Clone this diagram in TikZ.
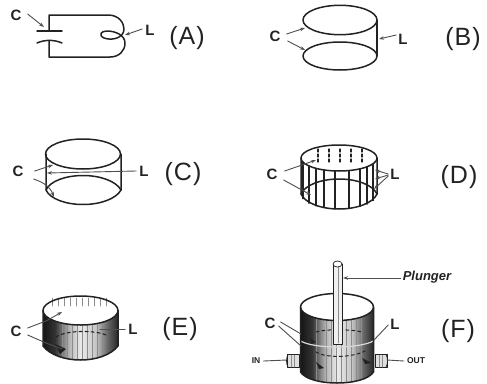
\documentclass[tikz,border=0pt]{standalone}
\usepackage{fontspec}
\setmainfont{Liberation Sans}
\usetikzlibrary{arrows.meta}
\definecolor{ink}{HTML}{222222}
\pgfdeclarehorizontalshading{cyl}{100bp}{color(0bp)=(black!92); color(25bp)=(black!92); color(33bp)=(black!80); color(42bp)=(black!30); color(50bp)=(black!8); color(60bp)=(black!22); color(68bp)=(black!60); color(75bp)=(black!85); color(100bp)=(black!85)}
\tikzset{
  x=1pt,y=-1pt,
  every path/.style={line cap=round,line join=round},
  outline/.style={draw=ink,line width=1.5pt},
  thin line/.style={draw=ink,line width=0.7pt},
  lead/.style={draw=ink!80,line width=0.9pt},
  leadarrow/.style={lead,-{Stealth[length=5pt,width=3.5pt]}},
  letter/.style={font=\fontsize{15}{15}\selectfont\bfseries,text=ink,inner sep=0pt},
  tiny letter/.style={font=\fontsize{8.5}{8.5}\selectfont\bfseries,text=ink,inner sep=0pt},
  panel/.style={font=\fontsize{25}{25}\selectfont,text=ink,inner sep=0pt},
  body/.style={shade,shading=cyl},
  hatch/.style={draw=black!45,line width=0.5pt},
}
\newcommand{\plabel}[1]{(\kern1pt#1\kern1pt)}
\begin{document}
\begin{tikzpicture}
\useasboundingbox (0,0) rectangle (487,383);
% ---------- A
\node[letter] (ca) at (16,15) {C};
\node[letter] (la) at (150,30) {L};
\node[panel] (pa) at (187,38) {\plabel{A}};
\draw[outline] (37,31) -- (62,31);
\draw[outline] (37,43) .. controls (45,39.5) and (54,39.5) .. (62,43);
\draw[outline] (49,31) -- (49,15) -- (108,15) .. controls (119,15) and (124,23) .. (124,29)
  .. controls (124,38) and (112,41) .. (104,38) .. controls (98,35) and (101,31) .. (107,31)
  .. controls (115,31) and (125,35) .. (125,43) .. controls (125,51) and (119,57) .. (110,57) -- (49,57) -- (49,41);
\coordinate (aca) at (44,27);
\coordinate (ala) at (125,35);
\draw[leadarrow] (ca.east)+(6,-1) -- (aca);
\draw[leadarrow] (la.west)+(-3,-1) -- (ala);
% ---------- B
\node[letter] (cb) at (275,36) {C};
\node[letter] (lb) at (403,39) {L};
\node[panel] (pb) at (463,39) {\plabel{B}};
\draw[outline] (340,20) ellipse [x radius=37,y radius=14.7];
\draw[outline] (340,56) ellipse [x radius=37,y radius=14];
\draw[outline] (377,20) -- (377,56);
\coordinate (bc1) at (305,28);
\coordinate (bc2) at (305,50);
\coordinate (bl) at (379,39);
\draw[leadarrow] (cb.east)+(6,-2) -- (bc1);
\draw[leadarrow] (cb.east)+(7,5) -- (bc2);
\draw[leadarrow] (lb.west)+(-2,-4) -- (bl);
% ---------- C
\node[letter] (cc) at (18,171) {C};
\node[letter] (lc) at (144,171) {L};
\node[panel] (pc) at (183,174) {\plabel{C}};
\draw[outline] (83,154) ellipse [x radius=37.5,y radius=15];
\draw[outline] (46,154) -- (46,190) .. controls (50,199) and (66,204.5) .. (83,204.5) .. controls (100,204.5) and (116,199) .. (121,190) -- (121,154);
\draw[outline] (46,190) .. controls (50,181) and (66,175.5) .. (83,175.5) .. controls (100,175.5) and (116,181) .. (121,190);
\coordinate (cc1) at (53,165);
\coordinate (cc2) at (54,197);
\coordinate (cl) at (47,173);
\draw[leadarrow] (cc.east)+(11,0) -- (cc1);
\draw[leadarrow] (cc.east)+(10,8) .. controls (45,183) and (50,187) .. (cc2);
\draw[leadarrow] (lc.west)+(-3,0) -- (cl);
% ---------- D
\node[letter] (cd) at (272,174) {C};
\node[letter] (ld) at (395,174) {L};
\node[panel] (pd) at (459,177) {\plabel{D}};
\foreach \x in {303,309,316,324,335,349,360,367,373}{
  \pgfmathsetmacro{\ss}{sqrt(1-((\x-339)/38)^2)}
  \draw[draw=ink,line width=1.1pt] (\x,{158+13*\ss}) -- (\x,{194+15*\ss});
}
\foreach \x in {318,329,340,351,362}{\draw[draw=ink,line width=1.1pt,densely dashed] (\x,149) -- (\x,162);}
\draw[outline] (339,158) ellipse [x radius=38,y radius=13];
\draw[outline] (301,158) -- (301,194) .. controls (305,203) and (321,209) .. (339,209) .. controls (357,209) and (373,203) .. (377,194) -- (377,158);
\draw[outline] (301,194) .. controls (305,185) and (321,179) .. (339,179) .. controls (357,179) and (373,185) .. (377,194);
\coordinate (dc1) at (316,160);
\coordinate (dc2) at (311,195);
\coordinate (dl1) at (375,170);
\coordinate (dl2) at (375,179);
\coordinate (dl3) at (374,189);
\draw[leadarrow] (cd.east)+(7,-3) -- (302,165) -- (dc1);
\draw[leadarrow] (cd.east)+(6,6) -- (dc2);
\draw[leadarrow] (ld.west)+(-2,0) -- (dl1);
\draw[leadarrow] (ld.west)+(-2,1) -- (dl2);
\draw[leadarrow] (ld.west)+(-2,2) -- (dl3);
% ---------- E
\node[letter] (ce) at (16,331) {C};
\node[letter] (le) at (133,329) {L};
\node[panel] (pe) at (180,329) {\plabel{E}};
\path[body] (43,310.5) -- (43,346) .. controls (50,355) and (65,360) .. (80.5,360) .. controls (96,360) and (111,355) .. (118,346) -- (118,310.5) .. controls (118,318) and (100,325) .. (80.5,325) .. controls (61,325) and (43,318) .. (43,310.5) -- cycle;
\foreach \x in {62,67,72,77,82,87,92,97,102}{
  \pgfmathsetmacro{\ss}{sqrt(1-((\x-80.5)/37.5)^2)}
  \draw[hatch] (\x,{310.5+14.5*\ss}) -- (\x,{346+13.5*\ss});
}
\fill[ink] (55,344) -- (66,349) -- (60,354) -- cycle;
\foreach \x in {52,58,64,70,76,82,88,94,100,106}{\draw[hatch] (\x,298) -- (\x,306);}
\draw[outline] (80.5,310.5) ellipse [x radius=37.5,y radius=14.5];
\draw[outline,dashed,line width=1.1pt] (56,337) .. controls (66,330) and (95,330) .. (106,335);
\draw[outline] (43,310.5) -- (43,346) .. controls (50,355) and (65,360) .. (80.5,360) .. controls (96,360) and (111,355) .. (118,346) -- (118,310.5);
\coordinate (ec1) at (62,312);
\coordinate (ec2) at (62,349);
\coordinate (el) at (100,329);
\draw[leadarrow] (ce.east)+(6,-3) -- (46,321) -- (ec1);
\draw[lead] (ce.east)+(6,4) -- (46,343);
\draw[lead] (46,343) -- (ec2);
\draw[lead] (le.west)+(-3,0) -- (el);
% ---------- F
\node[letter] (cf) at (270,323) {C};
\node[letter] (lf) at (395,324) {L};
\node[panel] (pf) at (458,331) {\plabel{F}};
\node[font=\fontsize{13}{13}\selectfont\bfseries\itshape,text=ink,inner sep=0pt] (pl) at (427,277) {Plunger};
\node[tiny letter] (inl) at (256,361) {IN};
\node[tiny letter] (outl) at (416,361) {OUT};
\path[body] (300.5,307) -- (300.5,372) .. controls (305,379) and (320,383) .. (337,383) .. controls (354,383) and (369,379) .. (373.5,372) -- (373.5,307) .. controls (373.5,315) and (355,320.5) .. (337,320.5) .. controls (319,320.5) and (300.5,315) .. (300.5,307) -- cycle;
\foreach \x in {316,321,326,331,336,341,346,351,356,361}{
  \pgfmathsetmacro{\ss}{sqrt(1-((\x-337)/36.5)^2)}
  \draw[hatch] (\x,{307+13.5*\ss}) -- (\x,{371+11*\ss});
}
\draw[black!15,line width=1.2pt] (300.5,341) .. controls (315,349) and (358,349) .. (373.5,341);
\draw[outline] (337,307) ellipse [x radius=36.5,y radius=13.5];
\draw[outline] (300.5,307) -- (300.5,372) .. controls (305,379) and (320,383) .. (337,383) .. controls (354,383) and (369,379) .. (373.5,372) -- (373.5,307);
\draw[outline,dashed,line width=1pt] (316,332) .. controls (325,329) and (350,329) .. (362,332);
\draw[outline,dashed,line width=1pt] (316,352) .. controls (325,358) and (352,358) .. (365,351);
\fill[ink] (310,338) -- (316,342) -- (311,344) -- cycle;
\fill[ink] (316,362) -- (324,368) -- (319,369) -- cycle;
\fill[ink] (362,358) -- (372,363) -- (365,364) -- cycle;
\draw[thin line,fill=black!12] (287,354.5) rectangle (299,367);
\draw[thin line,fill=black!12] (375,354.5) rectangle (387,367);
\draw[thin line] (288,354.5) .. controls (286,358) and (286,364) .. (288,367);
\draw[thin line] (386,354.5) .. controls (388,358) and (388,364) .. (386,367);
\draw[hatch] (291,355) -- (291,367) (294,355) -- (294,367) (379,355) -- (379,367) (382,355) -- (382,367);
\draw[thin line,fill=black!6] (333,264) -- (333,344) -- (342,344) -- (342,264);
\draw[hatch] (338,266) -- (338,343);
\draw[thin line,fill=white] (337.5,264) ellipse [x radius=4.5,y radius=3];
\coordinate (fp) at (343,278);
\coordinate (fc1) at (301,334);
\coordinate (fc2) at (301,346);
\coordinate (fl) at (374,340);
\coordinate (fi) at (287,360);
\coordinate (fo) at (387,360);
\draw[leadarrow] (pl.west)+(-2,1) -- (fp);
\draw[lead] (cf.east)+(5,-1) -- (fc1);
\draw[lead] (cf.east)+(3,3) -- (fc2);
\draw[lead] (lf.west)+(-2,1) -- (fl);
\draw[lead] (inl.east)+(3,0) -- (fi);
\draw[lead] (outl.west)+(-3,0) -- (fo);
\end{tikzpicture}
\end{document}
